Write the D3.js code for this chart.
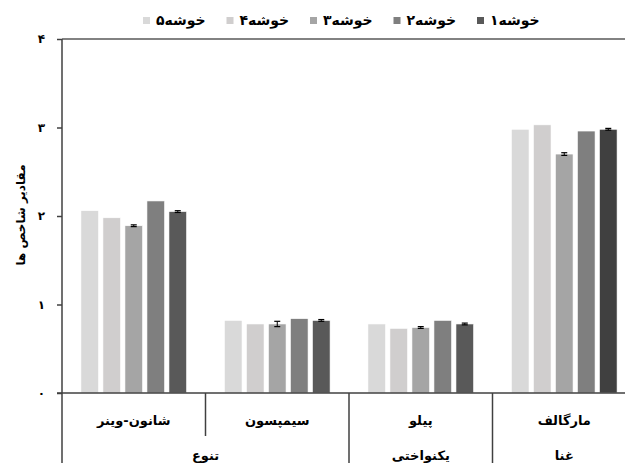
<!DOCTYPE html>
<html>
<head>
<meta charset="utf-8">
<script src="https://cdn.jsdelivr.net/npm/d3@7"></script>
<style>
  body { margin: 0; background: #fff; }
  svg { display: block; }
  text { font-family: "DejaVu Sans", sans-serif; font-weight: bold; fill: #000; }
</style>
</head>
<body>
<div id="chart"></div>
<script>
// index names (left to right) and their parent group
var indices = ["شانون-وینر", "سیمپسون", "پیلو", "مارگالف"];
var indexGroup = ["تنوع", "تنوع", "یکنواختی", "غنا"];

// clusters, drawn left to right (light to dark)
var clusters = ["خوشه۵", "خوشه۴", "خوشه۳", "خوشه۲", "خوشه۱"];

// values per cluster, one per index
var khoshe5 = [2.06, 0.82, 0.78, 2.98];
var khoshe4 = [1.98, 0.78, 0.73, 3.03];
var khoshe3 = [1.89, 0.78, 0.74, 2.70];
var khoshe2 = [2.17, 0.84, 0.82, 2.96];
var khoshe1 = [2.05, 0.82, 0.78, 2.98];

// small error bars (only on clusters 3 and 1)
var err3 = [0.01, 0.03, 0.01, 0.015];
var err1 = [0.01, 0.01, 0.01, 0.01];

var yTicks = [0, 1, 2, 3, 4];
var yTickLabels = ["۰", "۱", "۲", "۳", "۴"];

var yTitle = "مقادیر شاخص ها";

var seriesValues = [khoshe5, khoshe4, khoshe3, khoshe2, khoshe1];
var seriesErrors = [null, null, err3, null, err1];
var colors = ["#d9d9d9", "#d0cece", "#a5a5a5", "#7f7f7f", "#595959"];

//Chart dimensions
var W = 625, H = 463;
var x0 = 62, x1 = 636, yTop = 39, yBottom = 393;

var svg = d3.select("#chart").append("svg")
    .attr("width", W)
    .attr("height", H);

var y = d3.scaleLinear().domain([0, 4]).range([yBottom, yTop]);

var xGroup = d3.scaleBand().domain(indices).range([x0, x1]).padding(0);
var xSeries = d3.scaleBand().domain(clusters)
    .range([0, xGroup.bandwidth()])
    .paddingInner(0.2)
    .paddingOuter(0.86);

// flatten into bar records
var bars = [];
clusters.forEach(function(c, si) {
    indices.forEach(function(ind, ii) {
        bars.push({
            cluster: c, index: ind, si: si, ii: ii,
            value: seriesValues[si][ii],
            err: seriesErrors[si] ? seriesErrors[si][ii] : 0
        });
    });
});

// top border line at y = 4
svg.append("line")
    .attr("x1", x0).attr("x2", x1)
    .attr("y1", y(4)).attr("y2", y(4))
    .attr("stroke", "#595959").attr("stroke-width", 1.5);

// bars
svg.append("g").selectAll("rect")
    .data(bars)
    .join("rect")
    .attr("x", function(d) { return xGroup(d.index) + xSeries(d.cluster); })
    .attr("y", function(d) { return y(d.value); })
    .attr("width", xSeries.bandwidth())
    .attr("height", function(d) { return y(0) - y(d.value); })
    // the last bar of مارگالف is a darker shade in the original
    .attr("fill", function(d) { return (d.ii == 3 && d.si == 4) ? "#404040" : colors[d.si]; })
    .attr("stroke", "#fff")
    .attr("stroke-width", 0.6);

// error bars
var eb = svg.append("g").selectAll("g")
    .data(bars.filter(function(d) { return d.err > 0; }))
    .join("g")
    .attr("transform", function(d) {
        return "translate(" + (xGroup(d.index) + xSeries(d.cluster) + xSeries.bandwidth() / 2) + ",0)";
    });
eb.append("line")
    .attr("y1", function(d) { return y(d.value + d.err); })
    .attr("y2", function(d) { return y(d.value - d.err); })
    .attr("stroke", "#000").attr("stroke-width", 1);
eb.selectAll("line.cap")
    .data(function(d) { return [d.value + d.err, d.value - d.err]; })
    .join("line")
    .attr("class", "cap")
    .attr("x1", -3).attr("x2", 3)
    .attr("y1", function(v) { return y(v); })
    .attr("y2", function(v) { return y(v); })
    .attr("stroke", "#000").attr("stroke-width", 1.2);

// y axis
var yAxis = d3.axisLeft(y)
    .tickValues(yTicks)
    .tickSize(5)
    .tickFormat(function(d, i) { return yTickLabels[i]; });
var gy = svg.append("g")
    .attr("transform", "translate(" + x0 + ",0)")
    .call(yAxis);
gy.select(".domain").remove();
gy.selectAll(".tick line").attr("stroke", "#404040").attr("stroke-width", 1.5);
gy.selectAll(".tick text")
    .attr("x", -17)
    .attr("font-size", "12px")
    .style("font-family", "'DejaVu Sans', sans-serif")
    .style("font-weight", "bold");

// vertical axis line runs down through the category area
svg.append("line")
    .attr("x1", x0).attr("x2", x0)
    .attr("y1", yTop).attr("y2", H)
    .attr("stroke", "#404040").attr("stroke-width", 1.5);

// x axis baseline
svg.append("line")
    .attr("x1", x0 - 5).attr("x2", x1)
    .attr("y1", yBottom).attr("y2", yBottom)
    .attr("stroke", "#404040").attr("stroke-width", 1.5);

// index labels
svg.append("g").selectAll("text")
    .data(indices)
    .join("text")
    .attr("x", function(d) { return xGroup(d) + xGroup.bandwidth() / 2; })
    .attr("y", 425)
    .attr("text-anchor", "middle")
    .attr("font-size", "13px")
    .text(function(d) { return d; });

// separators between indices: short inside a group, full between groups
indices.forEach(function(ind, i) {
    if (i == 0) return;
    var sameGroup = indexGroup[i] == indexGroup[i - 1];
    svg.append("line")
        .attr("x1", xGroup(ind)).attr("x2", xGroup(ind))
        .attr("y1", yBottom).attr("y2", sameGroup ? 436 : H)
        .attr("stroke", "#404040").attr("stroke-width", 1.5);
});

// group labels centred over their indices
var groupNames = Array.from(new Set(indexGroup));
svg.append("g").selectAll("text")
    .data(groupNames)
    .join("text")
    .attr("x", function(g) {
        var members = indices.filter(function(d, i) { return indexGroup[i] == g; });
        var a = xGroup(members[0]);
        var b = xGroup(members[members.length - 1]) + xGroup.bandwidth();
        return (a + b) / 2;
    })
    .attr("y", 460)
    .attr("text-anchor", "middle")
    .attr("font-size", "13px")
    .text(function(g) { return g; });

// y axis title
svg.append("text")
    .attr("transform", "translate(25,215) rotate(-90)")
    .attr("text-anchor", "middle")
    .attr("font-size", "12px")
    .text(yTitle);

// legend
var legend = svg.append("g").selectAll("g")
    .data(clusters)
    .join("g")
    .attr("transform", function(d, i) { return "translate(" + (143 + i * 83.5) + ",17)"; });
legend.append("rect")
    .attr("width", 7).attr("height", 7)
    .attr("fill", function(d, i) { return colors[i]; });
legend.append("text")
    .attr("x", 13)
    .attr("y", 8)
    .attr("font-size", "14px")
    .text(function(d) { return d; });
</script>
</body>
</html>
